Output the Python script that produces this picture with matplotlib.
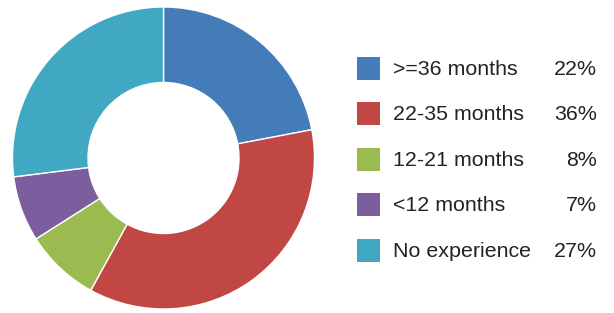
import matplotlib
matplotlib.use("Agg")
import matplotlib.pyplot as plt
from matplotlib.patches import Rectangle

labels = [">=36 months", "22-35 months", "12-21 months", "<12 months", "No experience"]
shares = [22, 36, 8, 7, 27]
colors = ["#447bb9", "#c04744", "#9bba4f", "#7c5e9f", "#41a8c4"]

W, H = 614, 313
fig = plt.figure(figsize=(W / 100, H / 100), dpi=100)

# donut: centre (163.5, 158) px, radius 151 px
cx, cy, r = 163.5, 158, 151
ax = fig.add_axes([(cx - r) / W, (H - cy - r) / H, 2 * r / W, 2 * r / H])
ax.pie(shares, colors=colors, startangle=90, counterclock=False, radius=1,
       wedgeprops=dict(width=0.5, edgecolor="white", linewidth=1))
ax.set_xlim(-1, 1)
ax.set_ylim(-1, 1)
ax.axis("off")

# legend drawn in pixel coordinates
lg = fig.add_axes([0, 0, 1, 1])
lg.set_xlim(0, W)
lg.set_ylim(H, 0)
lg.axis("off")
y0, dy = 68.5, 45.4
for i, (lab, s, c) in enumerate(zip(labels, shares, colors)):
    y = y0 + i * dy
    lg.add_patch(Rectangle((357, y - 11.5), 23, 23, facecolor=c, edgecolor="none"))
    lg.text(393, y + 1, lab, va="center", ha="left", fontsize=15.4,
            family="Liberation Sans", color="#222222")
    lg.text(597, y + 1, f"{s}%", va="center", ha="right", fontsize=15.4,
            family="Liberation Sans", color="#222222")

fig.savefig("out.png", dpi=100)
